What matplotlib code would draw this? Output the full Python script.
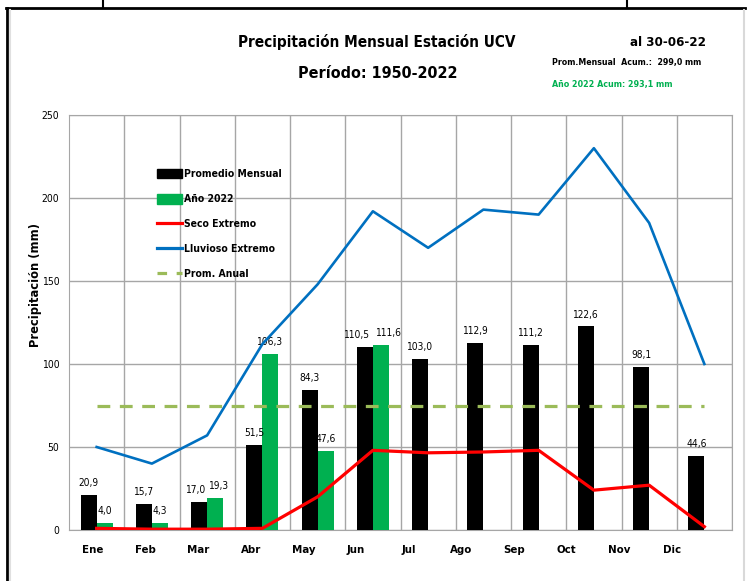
import matplotlib.pyplot as plt
from matplotlib.lines import Line2D
from matplotlib.patches import Patch
import numpy as np

# datos
meses = ['Ene', 'Feb', 'Mar', 'Abr', 'May', 'Jun', 'Jul', 'Ago', 'Sep', 'Oct', 'Nov', 'Dic']
promedio = [20.9, 15.7, 17.0, 51.5, 84.3, 110.5, 103.0, 112.9, 111.2, 122.6, 98.1, 44.6]
anio_2022 = [4.0, 4.3, 19.3, 106.3, 47.6, 111.6]
seco = [1, 0.5, 0.5, 1, 20, 48, 46.5, 47, 48, 24, 27, 2]
lluvioso = [50, 40, 57, 112, 148, 192, 170, 193, 190, 230, 185, 100]
prom_anual = 74.4

plt.rcParams['font.family'] = ['DejaVu Sans']
plt.rcParams['font.stretch'] = 'condensed'

fig = plt.figure(figsize=(7.55, 5.81), dpi=100)
ax = fig.add_axes([69 / 755, 1 - 530 / 581, 663 / 755, 415 / 581])

x = np.arange(len(meses))
w = 0.29
ax.bar(x - w / 2, promedio, w, color='black', zorder=3)
x22 = np.arange(len(anio_2022))
ax.bar(x22 + w / 2, anio_2022, w, color='#00B050', zorder=3)

ax.plot(x, seco, color='#FF0000', lw=2.3, zorder=4)
ax.plot(x, lluvioso, color='#0070C0', lw=1.9, zorder=4)
ax.plot(x, [prom_anual] * len(meses), color='#9BBB59', lw=2.3,
        dashes=(4, 3), zorder=4)

# etiquetas de valores (en Mar y Jun Excel las separa un poco)
empuje = {2: 2.5, 5: 6}
for xi, v in zip(x, promedio):
    dx = -empuje.get(xi, 0)
    ax.annotate(f'{v:.1f}'.replace('.', ','), (xi - w / 2, v), xytext=(dx, 5),
                textcoords='offset points', ha='center', va='bottom', fontsize=7.3)
for xi, v in zip(x22, anio_2022):
    dx = empuje.get(xi, 0)
    ax.annotate(f'{v:.1f}'.replace('.', ','), (xi + w / 2, v), xytext=(dx, 5),
                textcoords='offset points', ha='center', va='bottom', fontsize=7.3)

ax.set_xlim(-0.5, 11.5)
ax.set_ylim(0, 250)
ax.set_yticks(range(0, 251, 50))
ax.set_xticks(np.arange(12) + 0.5, minor=False)
ax.set_xticklabels([])
ax.grid(True, color='#A6A6A6', lw=1, zorder=0)
ax.tick_params(length=0, labelsize=7.5)
ax.tick_params(axis='y', pad=7)
for s in ax.spines.values():
    s.set_color('#A6A6A6')

# etiquetas de meses (desplazadas como en el original)
for i, m in enumerate(meses):
    ax.text(-0.065 + 0.952 * i, -12, m, ha='center', va='center',
            fontsize=8.2, fontweight='bold')

fig.text(36 / 755, 1 - 285 / 581, 'Precipitación (mm)', rotation=90,
         ha='center', va='center', fontsize=8.3, fontweight='bold',
         fontstretch='normal')

fig.text(377 / 755, 1 - 42 / 581, 'Precipitación Mensual Estación UCV',
         ha='center', va='center', fontsize=11, fontweight='bold')
fig.text(378 / 755, 1 - 73 / 581, 'Período: 1950-2022',
         ha='center', va='center', fontsize=11.5, fontweight='bold')
fig.text(706 / 755, 1 - 42 / 581, 'al 30-06-22', ha='right', va='center',
         fontsize=9.5, fontweight='bold')
fig.text(552 / 755, 1 - 63 / 581, 'Prom.Mensual  Acum.:  299,0 mm', ha='left',
         va='center', fontsize=6.3, fontweight='bold')
fig.text(552 / 755, 1 - 84 / 581, 'Año 2022 Acum: 293,1 mm', ha='left',
         va='center', fontsize=6.4, fontweight='bold', color='#00B050')

handles = [Patch(color='black'), Patch(color='#00B050'),
           Line2D([], [], color='#FF0000', lw=2.3),
           Line2D([], [], color='#0070C0', lw=2.3),
           Line2D([], [], color='#9BBB59', lw=2.3, dashes=(3, 3))]
labels = ['Promedio Mensual', 'Año 2022', 'Seco Extremo', 'Lluvioso Extremo', 'Prom. Anual']
fig.legend(handles, labels, loc='upper left',
           bbox_to_anchor=(153 / 755, 1 - 165 / 581), frameon=False,
           handlelength=2.4, handleheight=1.0, borderaxespad=0,
           handletextpad=0.15, labelspacing=1.42,
           prop={'weight': 'bold', 'size': 7.5, 'stretch': 'condensed'})

# marco exterior
fig.add_artist(Line2D([7 / 755, 7 / 755], [0, 1 - 8 / 581], color='black', lw=2))
fig.add_artist(Line2D([6 / 755, 745 / 755], [1 - 8 / 581] * 2, color='black', lw=2))
fig.add_artist(Line2D([103 / 755] * 2, [1 - 8 / 581, 1], color='black', lw=1.5))
fig.add_artist(Line2D([627 / 755] * 2, [1 - 8 / 581, 1], color='black', lw=1.5))
fig.add_artist(Line2D([744 / 755] * 2, [0, 1 - 10 / 581], color='#D9D9D9', lw=1.5))
fig.add_artist(Line2D([10 / 755] * 2, [0, 1 - 10 / 581], color='#E0E0E0', lw=1.5))

fig.savefig('out.png', dpi=100)
